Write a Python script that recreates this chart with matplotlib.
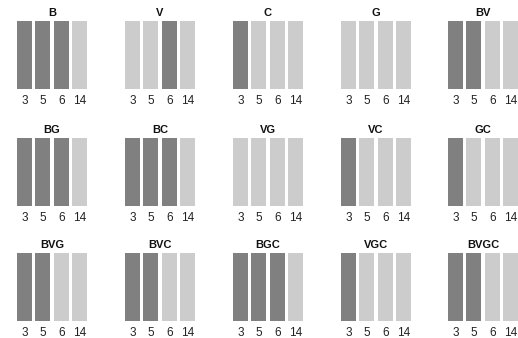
import matplotlib
matplotlib.use("Agg")
import matplotlib.pyplot as plt

plt.rcParams['font.family'] = ['Liberation Sans', 'DejaVu Sans']

tick_labels = ["3", "5", "6", "14"]
titles = ["B", "V", "C", "G", "BV",
          "BG", "BC", "VG", "VC", "GC",
          "BVG", "BVC", "BGC", "VGC", "BVGC"]
# 1 = dark (member), 0 = light
membership = [
    [1, 1, 1, 0], [0, 0, 1, 0], [1, 0, 0, 0], [0, 0, 0, 0], [1, 1, 0, 0],
    [1, 1, 1, 0], [1, 1, 1, 0], [0, 0, 0, 0], [1, 0, 0, 0], [1, 0, 0, 0],
    [1, 1, 0, 0], [1, 1, 0, 0], [1, 1, 1, 0], [1, 0, 0, 0], [1, 1, 0, 0],
]
heights = [1, 1, 1, 1]

W, H = 518, 338
fig = plt.figure(figsize=(W / 100, H / 100), dpi=100)
col_left = [17, 125, 233, 341, 448]
row_top = [21, 138, 253]
aw, ah = 70, 68
dark, light = "#808080", "#cccccc"

for i, (t, mem) in enumerate(zip(titles, membership)):
    r, c = divmod(i, 5)
    ax = fig.add_axes([col_left[c] / W, 1 - (row_top[r] + ah) / H, aw / W, ah / H])
    cols = [dark if m else light for m in mem]
    ax.bar(range(4), heights, width=0.8, color=cols)
    ax.set_xlim(-0.4, 3.4)
    ax.set_ylim(0, 1)
    ax.set_xticks(range(4))
    ax.set_xticklabels(tick_labels, fontsize=8.5, color="#222222")
    ax.tick_params(axis="x", length=0, pad=4)
    ax.set_yticks([])
    for s in ax.spines.values():
        s.set_visible(False)
    ax.set_title(t, fontsize=8, fontweight="bold", pad=3.5, color="#111111")

fig.savefig("out.png", dpi=100)
